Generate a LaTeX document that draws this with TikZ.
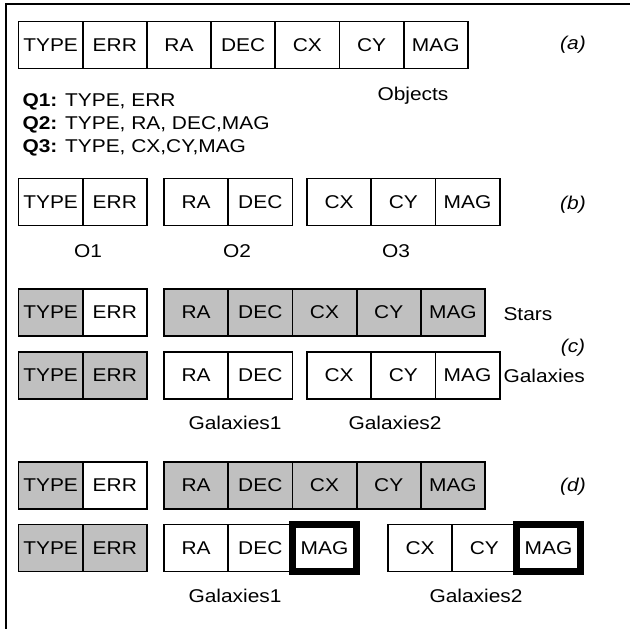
\documentclass[tikz,border=0pt]{standalone}
\usepackage{fontspec}
\setmainfont{Liberation Sans}[FakeStretch=1.13]
\usepackage{xcolor}
\usetikzlibrary{positioning}
\definecolor{CellGray}{RGB}{192,192,192}
\tikzset{
  cell/.style={draw=black, line width=1.8pt, fill=white, outer sep=0pt, inner sep=0pt,
    minimum width=64.2pt, minimum height=47pt, font=\fontsize{18.5}{21}\selectfont},
  gcell/.style={cell, fill=CellGray},
  magcell/.style={cell, line width=7pt},
  tag/.style={font=\fontsize{18.5}{21}\selectfont\itshape},
  caption/.style={font=\fontsize{18.5}{21}\selectfont, anchor=base}
}

\begin{document}
\begin{tikzpicture}[x=1pt,y=-1pt]
  \useasboundingbox (0,0) rectangle (630,629);
  \draw[line width=2.7pt] (6,629) -- (6,4) -- (630,4);

  % (a) single table
  \foreach \lbl [count=\i] in {TYPE,ERR,RA,DEC,CX,CY,MAG}
    \node[cell] (a\i) at ({18.5+64.2*(\i-0.5)},45) {\lbl};
  \node[tag] (taga) at (573,45) {(a)};
  \node[caption] (objects) at (413,100) {Objects};
  \node[caption, anchor=base west] (q1) at (19,106) {\textbf{Q1:} TYPE, ERR};
  \node[caption, anchor=base west] (q2) at (19,129) {\textbf{Q2:} TYPE, RA, DEC,MAG};
  \node[caption, anchor=base west] (q3) at (19,152) {\textbf{Q3:} TYPE, CX,CY,MAG};

  % (b) vertical partitions
  \foreach \lbl [count=\i] in {TYPE,ERR}
    \node[cell] (bo1\i) at ({18.5+64.2*(\i-0.5)},202) {\lbl};
  \foreach \lbl [count=\i] in {RA,DEC}
    \node[cell] (bo2\i) at ({164+64.2*(\i-0.5)},202) {\lbl};
  \foreach \lbl [count=\i] in {CX,CY,MAG}
    \node[cell] (bo3\i) at ({307+64.2*(\i-0.5)},202) {\lbl};
  \node[tag] (tagb) at (573,205) {(b)};
  \node[caption] (o1) at (88,257) {O1};
  \node[caption] (o2) at (237,257) {O2};
  \node[caption] (o3) at (396,257) {O3};

  % (c) stars and galaxies
  \node[gcell] (cs11) at (50.6,312.5) {TYPE};
  \node[cell] (cs12) at (114.8,312.5) {ERR};
  \foreach \lbl [count=\i] in {RA,DEC,CX,CY,MAG}
    \node[gcell] (cs2\i) at ({164+64.2*(\i-0.5)},312.5) {\lbl};
  \node[caption, anchor=base west] (stars) at (500,320) {Stars};
  \foreach \lbl [count=\i] in {TYPE,ERR}
    \node[gcell] (cg1\i) at ({18.5+64.2*(\i-0.5)},375.5) {\lbl};
  \foreach \lbl [count=\i] in {RA,DEC}
    \node[cell] (cg2\i) at ({164+64.2*(\i-0.5)},375.5) {\lbl};
  \foreach \lbl [count=\i] in {CX,CY,MAG}
    \node[cell] (cg3\i) at ({307+64.2*(\i-0.5)},375.5) {\lbl};
  \node[caption, anchor=base west] (galaxies) at (500,382) {Galaxies};
  \node[tag] (tagc) at (573,348) {(c)};
  \node[caption] (cgal1) at (235,429) {Galaxies1};
  \node[caption] (cgal2) at (395,429) {Galaxies2};

  % (d) replicated MAG
  \node[gcell] (ds11) at (50.6,485.5) {TYPE};
  \node[cell] (ds12) at (114.8,485.5) {ERR};
  \foreach \lbl [count=\i] in {RA,DEC,CX,CY,MAG}
    \node[gcell] (ds2\i) at ({164+64.2*(\i-0.5)},485.5) {\lbl};
  \node[tag] (tagd) at (573,487) {(d)};
  \foreach \lbl [count=\i] in {TYPE,ERR}
    \node[gcell] (dg1\i) at ({18.5+64.2*(\i-0.5)},548) {\lbl};
  \foreach \lbl [count=\i] in {RA,DEC}
    \node[cell] (dg2\i) at ({164+64.2*(\i-0.5)},548) {\lbl};
  \node[magcell] (dg23) at (324.5,548) {MAG};
  \foreach \lbl [count=\i] in {CX,CY}
    \node[cell] (dg3\i) at ({388+64.2*(\i-0.5)},548) {\lbl};
  \node[magcell] (dg33) at (548.5,548) {MAG};
  \node[caption] (dgal1) at (235,602) {Galaxies1};
  \node[caption] (dgal2) at (476,602) {Galaxies2};
\end{tikzpicture}
\end{document}
